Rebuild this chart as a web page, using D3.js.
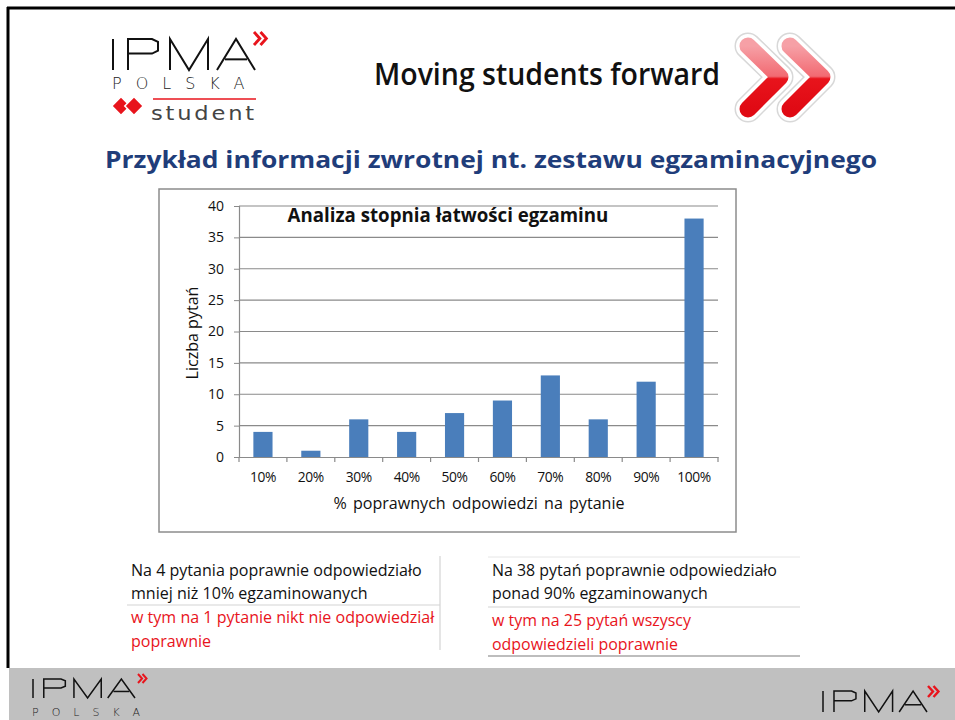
<!DOCTYPE html>
<html><head><meta charset="utf-8">
<script src="https://cdn.jsdelivr.net/npm/d3@7/dist/d3.min.js"></script>
<style>
html,body{margin:0;padding:0;background:#fff;}
svg{display:block;}
</style></head>
<body>
<script>
// ---- data ----
const categories = ["10%","20%","30%","40%","50%","60%","70%","80%","90%","100%"];
const values = [4,1,6,4,7,9,13,6,12,38];
const yTicks = [0,5,10,15,20,25,30,35,40];
const chartTitle = "Analiza stopnia łatwości egzaminu";
const yTitle = "Liczba pytań";
const xTitle = "% poprawnych odpowiedzi na pytanie";
const heading = "Przykład informacji zwrotnej nt. zestawu egzaminacyjnego";
const leftNote = ["Na 4 pytania poprawnie odpowiedziało","mniej niż 10% egzaminowanych"];
const leftNoteRed = ["w tym na 1 pytanie nikt nie odpowiedział","poprawnie"];
const rightNote = ["Na 38 pytań poprawnie odpowiedziało","ponad 90% egzaminowanych"];
const rightNoteRed = ["w tym na 25 pytań wszyscy","odpowiedzieli poprawnie"];

const W = 955, H = 720;
const FONT = "'Open Sans', 'DejaVu Sans', sans-serif";
const svg = d3.select("body").append("svg").attr("width", W).attr("height", H);

function fit(sel, target){
  const n = sel.node();
  const fs = parseFloat(sel.attr("font-size"));
  const w = n.getComputedTextLength();
  if (w > 0) sel.attr("font-size", fs*target/w);
  return sel;
}

// slide border
svg.append("rect").attr("x",0).attr("y",0).attr("width",W).attr("height",H).attr("fill","#fff");
svg.append("line").attr("x1",7).attr("x2",W).attr("y1",8).attr("y2",8).attr("stroke","#000").attr("stroke-width",3);
svg.append("line").attr("x1",8).attr("x2",8).attr("y1",7).attr("y2",668).attr("stroke","#000").attr("stroke-width",3);

// footer
svg.append("rect").attr("x",9).attr("y",668).attr("width",W-9).attr("height",52).attr("fill","#c0c0c0");

// ---- IPMA logo helper ----
function ipma(g, x, y, h, w, sw){
  const s = w/142, v = h/32;
  const p = (d)=>g.append("path").attr("d",d).attr("fill","none").attr("stroke","#111").attr("stroke-width",sw).attr("stroke-linejoin","miter");
  p(`M${x},${y} L${x},${y+h}`);
  const px = x+15*s;
  p(`M${px},${y+h} L${px},${y} L${px+24*s},${y} L${px+30*s},${y+3*v} L${px+30*s},${y+12*v} L${px+24*s},${y+15*v} L${px},${y+15*v}`);
  const mx = x+57*s;
  p(`M${mx},${y+h} L${mx},${y} L${mx+19*s},${y+h} L${mx+38*s},${y} L${mx+38*s},${y+h}`);
  const ax = x+104*s;
  p(`M${ax},${y+h} L${ax+19*s},${y} L${ax+38*s},${y+h}`);
  p(`M${ax+8*s},${y+21*v} L${ax+30*s},${y+21*v}`);
}
function guill(g, x, y, sz){
  const r = (dx)=>g.append("path")
    .attr("d",`M${x+dx},${y} L${x+dx+sz*0.45},${y+sz*0.5} L${x+dx},${y+sz}`)
    .attr("fill","none").attr("stroke","#e8141c").attr("stroke-width",sz*0.22);
  r(0); r(sz*0.5);
}

// top-left logo
const lg = svg.append("g");
ipma(lg, 113, 39, 31, 142, 2);
guill(lg, 254, 32, 13);
lg.append("text").attr("x",112).attr("y",89).attr("font-family","'DejaVu Sans', sans-serif")
  .attr("font-size",16).attr("font-weight",200).attr("fill","#222").attr("letter-spacing",13.5)
  .attr("textLength",146).text("POLSKA");
lg.append("line").attr("x1",153).attr("x2",256).attr("y1",99).attr("y2",99).attr("stroke","#e8141c").attr("stroke-width",1.5);
[[121,106],[134,106]].forEach(([cx,cy])=>{
  lg.append("rect").attr("x",cx-6.5).attr("y",cy-6.5).attr("width",13).attr("height",13)
    .attr("transform",`rotate(45 ${cx} ${cy})`).attr("fill","#e8141c").attr("stroke","#fff").attr("stroke-width",1.5);
});
lg.append("text").attr("x",151).attr("y",120).attr("font-family","'DejaVu Sans', sans-serif")
  .attr("font-size",20).attr("fill","#444").attr("letter-spacing",2.5).attr("textLength",106).attr("lengthAdjust","spacingAndGlyphs").text("student");

// Moving students forward
svg.append("text").attr("x",374).attr("y",85).attr("font-family","'Open Sans', sans-serif")
  .attr("font-size",30).attr("font-weight",600).attr("fill","#111").attr("textLength",346).attr("lengthAdjust","spacingAndGlyphs")
  .text("Moving students forward");

// chevrons
const defs = svg.append("defs");
const grad = defs.append("linearGradient").attr("id","chev").attr("x1",0).attr("y1",0).attr("x2",0).attr("y2",1);
grad.append("stop").attr("offset","0%").attr("stop-color","#f6a0a6");
grad.append("stop").attr("offset","48%").attr("stop-color","#f26a72");
grad.append("stop").attr("offset","52%").attr("stop-color","#e8141c");
grad.append("stop").attr("offset","100%").attr("stop-color","#e00a14");
function chevron(x){
  const d = `M${x},${46} L${x+32},${77} L${x},${109}`;
  svg.append("path").attr("d",d).attr("fill","none").attr("stroke","#d8d8d8").attr("stroke-width",27).attr("stroke-linecap","round").attr("stroke-linejoin","round");
  svg.append("path").attr("d",d).attr("fill","none").attr("stroke","#fff").attr("stroke-width",24).attr("stroke-linecap","round").attr("stroke-linejoin","round");
  svg.append("path").attr("d",d).attr("fill","none").attr("stroke","url(#chev)").attr("stroke-width",17).attr("stroke-linecap","round").attr("stroke-linejoin","round");
}
chevron(748);
chevron(790);

// heading
svg.append("text").attr("x",491).attr("y",168).attr("text-anchor","middle")
  .attr("font-family","'Open Sans', sans-serif").attr("font-weight",700).attr("font-size",23.5)
  .attr("fill","#1f3d7a").attr("textLength",772).attr("lengthAdjust","spacingAndGlyphs").text(heading);

// ---- chart ----
svg.append("rect").attr("x",159).attr("y",189).attr("width",577).attr("height",343)
  .attr("fill","#fff").attr("stroke","#8c8c8c").attr("stroke-width",1.5);

const x = d3.scaleBand().domain(categories).range([239,718]).paddingInner(0.6).paddingOuter(0.3);
const y = d3.scaleLinear().domain([0,40]).range([457,206]);

const plot = svg.append("g");
plot.selectAll("line.grid").data(yTicks.filter(t=>t>0)).join("line")
  .attr("x1",239).attr("x2",718).attr("y1",d=>y(d)).attr("y2",d=>y(d))
  .attr("stroke","#8a8a8a").attr("stroke-width",1.2);

const yAxis = plot.append("g").attr("transform","translate(239,0)")
  .call(d3.axisLeft(y).tickValues(yTicks).tickSize(5).tickPadding(10));
yAxis.select(".domain").attr("stroke","#8a8a8a").attr("stroke-width",1.2);
yAxis.selectAll(".tick line").attr("stroke","#8a8a8a");
yAxis.selectAll("text").attr("font-family",FONT).attr("font-size",14).attr("fill","#111");

plot.selectAll("rect.bar").data(values).join("rect")
  .attr("x",(d,i)=>x(categories[i])).attr("width",x.bandwidth())
  .attr("y",d=>y(d)).attr("height",d=>y(0)-y(d)).attr("fill","#4a7ebb");

const xAxis = plot.append("g").attr("transform","translate(0,457)")
  .call(d3.axisBottom(x).tickSize(0).tickPadding(15));
xAxis.select(".domain").attr("stroke","#8a8a8a").attr("stroke-width",1.2);
xAxis.selectAll("text").attr("font-family",FONT).attr("font-size",13.8).attr("fill","#111").attr("letter-spacing",-0.4);
const bounds = d3.range(categories.length+1).map(i=>239 + i*(718-239)/categories.length);
plot.selectAll("line.xt").data(bounds).join("line")
  .attr("x1",d=>d).attr("x2",d=>d).attr("y1",457).attr("y2",462)
  .attr("stroke","#8a8a8a").attr("stroke-width",1.2);

// titles
fit(svg.append("text").attr("x",448).attr("y",222).attr("text-anchor","middle")
  .attr("font-family",FONT).attr("font-weight",700).attr("font-size",17).attr("fill","#111")
  .text(chartTitle), 321);
fit(svg.append("text").attr("transform","translate(198,333) rotate(-90)").attr("text-anchor","middle")
  .attr("font-family",FONT).attr("font-size",15).attr("fill","#111").text(yTitle), 93);
fit(svg.append("text").attr("x",479).attr("y",509).attr("text-anchor","middle")
  .attr("font-family",FONT).attr("font-size",15).attr("fill","#111").attr("word-spacing",2).text(xTitle), 292);

// ---- notes ----
const NF = "'Open Sans', sans-serif";
function note(x0, x1, lines, redLines, ys, sepY, vline, bottomY, topY, target){
  const g = svg.append("g");
  if (topY) g.append("line").attr("x1",x0).attr("x2",x1).attr("y1",topY).attr("y2",topY).attr("stroke","#e6e6e6");
  g.append("line").attr("x1",x0).attr("x2",x1).attr("y1",sepY).attr("y2",sepY).attr("stroke","#d4d4d4").attr("stroke-width",1.2);
  if (vline) g.append("line").attr("x1",x1).attr("x2",x1).attr("y1",556).attr("y2",650).attr("stroke","#d4d4d4").attr("stroke-width",1.2);
  if (bottomY) g.append("line").attr("x1",x0).attr("x2",x1).attr("y1",bottomY).attr("y2",bottomY).attr("stroke","#bdbdbd").attr("stroke-width",2);
  const first = g.append("text").attr("x",x0+4).attr("y",ys[0]).attr("font-family",NF).attr("font-size",14).attr("fill","#111").text(lines[0]);
  fit(first, target);
  const fs = first.attr("font-size");
  lines.slice(1).forEach((t,i)=>g.append("text").attr("x",x0+4).attr("y",ys[i+1]).attr("font-family",NF).attr("font-size",fs).attr("fill","#111").text(t));
  redLines.forEach((t,i)=>g.append("text").attr("x",x0+4).attr("y",ys[i+2]).attr("font-family",NF).attr("font-size",fs).attr("fill","#e8141c").text(t));
}
note(127, 440, leftNote, leftNoteRed, [576,599,623,647], 605, true, null, null, 291);
note(488, 800, rightNote, rightNoteRed, [576,599,626,650], 607, false, 656, 557, 285);

// ---- footer logos ----
const fl = svg.append("g");
ipma(fl, 33, 679, 19, 102, 1.5);
guill(fl, 138, 674, 9);
fl.append("text").attr("x",32).attr("y",716).attr("font-family","'DejaVu Sans', sans-serif")
  .attr("font-size",11).attr("font-weight",200).attr("fill","#222").attr("letter-spacing",13).text("POLSKA");
const fr = svg.append("g");
ipma(fr, 823, 691, 21, 104, 1.5);
guill(fr, 928, 686, 11);
</script>
</body></html>
